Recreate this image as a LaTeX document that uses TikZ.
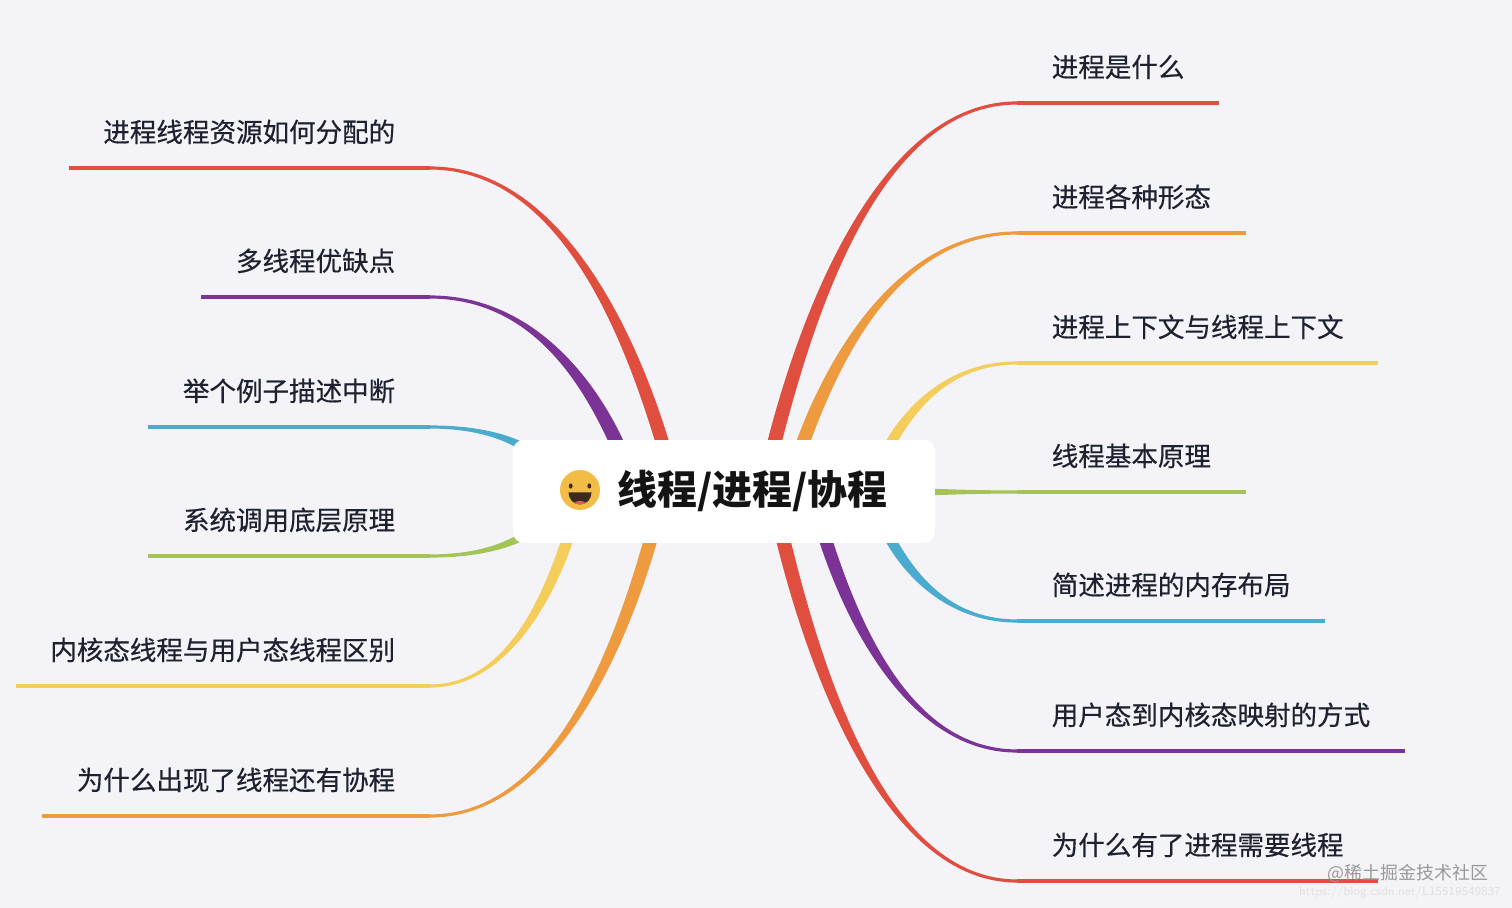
\documentclass[tikz,border=0pt]{standalone}
\usepackage{fontspec}
\usetikzlibrary{calc}

\newfontfamily\cjk{Noto Sans CJK SC}
\newfontfamily\cjkmid[FakeBold=0.45]{Noto Sans CJK SC}

\definecolor{paper}{HTML}{F4F4F8}
\definecolor{ink}{HTML}{1E2230}
\definecolor{redb}{HTML}{E04E3F}
\definecolor{orangeb}{HTML}{EE9A3F}
\definecolor{yellowb}{HTML}{F4CD5A}
\definecolor{greenb}{HTML}{A4C457}
\definecolor{blueb}{HTML}{4AABCF}
\definecolor{purpleb}{HTML}{7B3495}
\definecolor{face}{HTML}{F3BC46}
\definecolor{mouth}{HTML}{3B2A20}
\definecolor{tongue}{HTML}{E25C5C}

\tikzset{
	topic/.style = {font = \cjkmid\fontsize{15.1pt}{18pt}\selectfont,
					text = ink,
					text depth = 0pt,
					inner xsep = 19.6pt,
					inner ysep = 14.6pt},
	right topic/.style = {topic, anchor = south west},
	left topic/.style = {topic, anchor = south east},
	root/.style = {fill = white,
				   rounded corners = 6pt,
				   minimum width = 8.44cm,
				   minimum height = 2.06cm,
				   font = \cjk\bfseries\fontsize{22.7pt}{26pt}\selectfont,
				   text = black!92},
	stem/.style = {line width = 1.8pt},
	stamp/.style = {font = \cjk\fontsize{10.2pt}{12pt}\selectfont, text = black!40},
	faint/.style = {font = \sffamily\fontsize{7pt}{8pt}\selectfont, text = black!12}
}

% tapered ribbon: colour, start, end, half width at the start (pt)
\newcommand\limb[4]{%
	\fill[#1] let \p1 = (#2), \p2 = (#3),
		\p3 = ({\x1+0.15*(\x2-\x1)}, {\y1+0.42*(\y2-\y1)}),
		\n1 = {veclen(\x3-\x1,\y3-\y1)},
		\n2 = {-(\y3-\y1)/\n1*#4},
		\n3 = {(\x3-\x1)/\n1*#4},
		\n4 = {sign(\x2-\x1)*0.9},
		\n5 = {\x1+0.45*(\x2-\x1)}
	in ({\x1+\n2},{\y1+\n3}) .. controls ({\x3+\n2},{\y3+\n3}) and ({\n5*1pt},{\y2+\n4}) .. (\x2,{\y2+\n4})
		-- (\x2,{\y2-\n4}) .. controls ({\n5*1pt},{\y2-\n4}) and ({\x3-\n2},{\y3-\n3}) .. ({\x1-\n2},{\y1-\n3}) -- cycle;%
}

\begin{document}
\begin{tikzpicture}[x = 0.02cm, y = -0.02cm]

	\useasboundingbox[fill = paper] (0,0) rectangle (1512,908);

	\draw (1017,103) node[right topic] (r1) {进程是什么};
	\draw (1017,233) node[right topic] (r2) {进程各种形态};
	\draw (1017,363) node[right topic] (r3) {进程上下文与线程上下文};
	\draw (1017,492) node[right topic] (r4) {线程基本原理};
	\draw (1017,621) node[right topic] (r5) {简述进程的内存布局};
	\draw (1017,751) node[right topic] (r6) {用户态到内核态映射的方式};
	\draw (1017,881) node[right topic] (r7) {为什么有了进程需要线程};

	\draw (430,168) node[left topic] (l1) {进程线程资源如何分配的};
	\draw (430,297) node[left topic] (l2) {多线程优缺点};
	\draw (430,427) node[left topic] (l3) {举个例子描述中断};
	\draw (430,556) node[left topic] (l4) {系统调用底层原理};
	\draw (430,686) node[left topic] (l5) {内核态线程与用户态线程区别};
	\draw (430,816) node[left topic] (l6) {为什么出现了线程还有协程};

	\coordinate (rs1) at (773,448);
	\coordinate (rs2) at (801,448);
	\coordinate (rs3) at (888,448);
	\coordinate (rs4) at (925,492);
	\coordinate (rs5) at (888,535);
	\coordinate (rs6) at (824,535);
	\coordinate (rs7) at (782,535);
	\coordinate (ls1) at (664,448);
	\coordinate (ls2) at (619,448);
	\coordinate (ls3) at (530,451);
	\coordinate (ls4) at (530,532);
	\coordinate (ls5) at (569,535);
	\coordinate (ls6) at (652,535);

	\limb{redb}{rs1}{r1.south west}{4.0}
	\limb{orangeb}{rs2}{r2.south west}{3.8}
	\limb{yellowb}{rs3}{r3.south west}{3.0}
	\limb{greenb}{rs4}{r4.south west}{1.9}
	\limb{blueb}{rs5}{r5.south west}{3.0}
	\limb{purpleb}{rs6}{r6.south west}{3.7}
	\limb{redb}{rs7}{r7.south west}{4.0}
	\limb{redb}{ls1}{l1.south east}{3.8}
	\limb{purpleb}{ls2}{l2.south east}{4.0}
	\limb{blueb}{ls3}{l3.south east}{2.3}
	\limb{greenb}{ls4}{l4.south east}{2.3}
	\limb{yellowb}{ls5}{l5.south east}{3.3}
	\limb{orangeb}{ls6}{l6.south east}{3.8}

	\draw[redb, stem] (r1.south west) -- (r1.south east);
	\draw[orangeb, stem] (r2.south west) -- (r2.south east);
	\draw[yellowb, stem] (r3.south west) -- (r3.south east);
	\draw[greenb, stem] (r4.south west) -- (r4.south east);
	\draw[blueb, stem] (r5.south west) -- (r5.south east);
	\draw[purpleb, stem] (r6.south west) -- (r6.south east);
	\draw[redb, stem] (r7.south west) -- (r7.south east);
	\draw[redb, stem] (l1.south west) -- (l1.south east);
	\draw[purpleb, stem] (l2.south west) -- (l2.south east);
	\draw[blueb, stem] (l3.south west) -- (l3.south east);
	\draw[greenb, stem] (l4.south west) -- (l4.south east);
	\draw[yellowb, stem] (l5.south west) -- (l5.south east);
	\draw[orangeb, stem] (l6.south west) -- (l6.south east);

	\draw (724,491.5) node[root] (root) {\hspace*{32.3pt}线程/进程/协程};

	% the laughing face
	\fill[face] (580,490) circle (0.4cm);
	\fill[mouth] (570.7,486) ellipse [x radius = 0.038cm, y radius = 0.052cm];
	\fill[mouth] (589.3,486) ellipse [x radius = 0.038cm, y radius = 0.052cm];
	\begin{scope}
		\clip (568.5,492.5) -- (591.5,492.5) arc [start angle = 0, end angle = -180, x radius = 0.23cm, y radius = 0.24cm] -- cycle;
		\fill[mouth] (566,490) rectangle (594,506);
		\fill[tongue] (580,507) ellipse [x radius = 0.17cm, y radius = 0.12cm];
	\end{scope}

	\draw (1408,873) node[stamp] (wm) {@稀土掘金技术社区};
	\draw (1400,892) node[faint] (url) {https://blog.csdn.net/L15519549837};

\end{tikzpicture}
\end{document}
